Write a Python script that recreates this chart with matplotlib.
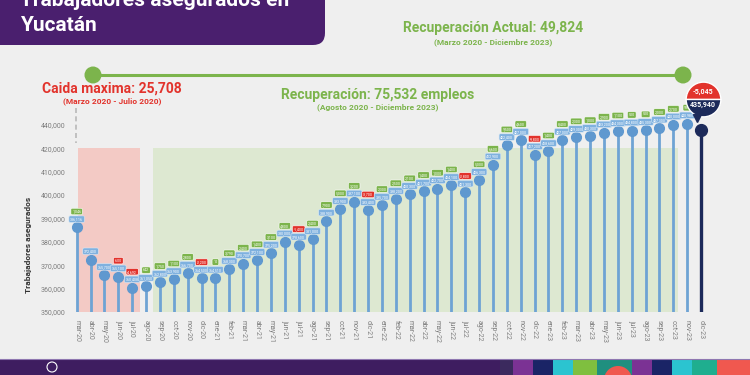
import numpy as np
import matplotlib.pyplot as plt
from matplotlib import transforms
from matplotlib.patches import FancyBboxPatch, Rectangle, Circle

plt.rcParams['font.family'] = ['Roboto', 'DejaVu Sans']

# datos: trabajadores asegurados en Yucatán (mar-20 a dic-23)
meses = ['mar-20', 'abr-20', 'may-20', 'jun-20', 'jul-20', 'ago-20', 'sep-20', 'oct-20',
         'nov-20', 'dic-20', 'ene-21', 'feb-21', 'mar-21', 'abr-21', 'may-21', 'jun-21',
         'jul-21', 'ago-21', 'sep-21', 'oct-21', 'nov-21', 'dic-21', 'ene-22', 'feb-22',
         'mar-22', 'abr-22', 'may-22', 'jun-22', 'jul-22', 'ago-22', 'sep-22', 'oct-22',
         'nov-22', 'dic-22', 'ene-23', 'feb-23', 'mar-23', 'abr-23', 'may-23', 'jun-23',
         'jul-23', 'ago-23', 'sep-23', 'oct-23', 'nov-23', 'dic-23']
asegurados = [386116, 372400, 365700, 365100, 360408, 361050, 362800, 363900,
              366700, 364500, 364510, 368300, 370700, 372100, 375200, 380000,
              378600, 381000, 388900, 393900, 397100, 393400, 395700, 398200,
              400300, 401700, 402700, 404100, 401300, 406300, 412900, 422400,
              427000, 417200, 418600, 427000, 429300, 430300, 433200, 434300,
              434800, 435300, 437300, 440000, 440985, 435940]
cambio_mar20 = 1046           # variación mostrada para mar-20
sin_cambio = ['abr-20', 'may-20']   # meses sin recuadro de variación
ticks_y = [350000, 360000, 370000, 380000, 390000, 400000, 410000, 420000, 440000]

i_min = asegurados.index(min(asegurados[:6]))
caida = asegurados[0] - asegurados[i_min]
recuperacion = asegurados[-1] - asegurados[i_min]
actual = asegurados[-1] - asegurados[0]

VERDE = '#7cb44c'
ROJO = '#e2332c'
AZUL = '#6ea3d4'
NAVY = '#1c2a5a'
MORADO = '#4a1f6e'


# eje Y comprimido arriba de 420,000 (como en la lamina original)
def fwd(v):
    v = np.asarray(v, dtype=float)
    return np.where(v > 420000, 420000 + (v - 420000) / 2, v)


def inv(u):
    u = np.asarray(u, dtype=float)
    return np.where(u > 420000, 420000 + (u - 420000) * 2, u)


fig = plt.figure(figsize=(7.5, 3.75), dpi=100, facecolor='#efefef')

# capa de fondo en pixeles
bg = fig.add_axes([0, 0, 1, 1], zorder=0)
bg.set_xlim(0, 750)
bg.set_ylim(375, 0)
bg.axis('off')

bg.add_patch(FancyBboxPatch((-20, -20), 345, 65, boxstyle='round,pad=0,rounding_size=12',
                            fc=MORADO, ec='none'))
bg.text(20, 6, 'Trabajadores asegurados en', color='white', fontsize=15,
        fontweight='bold', va='baseline')
bg.text(20, 31, 'Yucatán', color='white', fontsize=15, fontweight='bold', va='baseline')

# pie de pagina
bg.add_patch(Rectangle((0, 359), 750, 16, fc='#3e1d60', ec='none'))
bg.plot([0, 750], [359, 359], color='#8f77b0', lw=0.8)
bloques = [(500, 513, '#3b2a5e'), (513, 533, '#7b3294'), (533, 553, '#1a2466'),
           (553, 573, '#2bc4d0'), (573, 597, '#7fbf3f'), (597, 632, '#1f8f7f'),
           (632, 652, '#7b3294'), (652, 672, '#1a2466'), (672, 692, '#2bc4d0'),
           (692, 717, '#1fae8f'), (717, 750, '#f0584f')]
for x0, x1, c in bloques:
    bg.add_patch(Rectangle((x0, 360), x1 - x0, 15, fc=c, ec='none'))
bg.add_patch(Circle((618, 380), 14, fc='#f0584f', ec='none'))
bg.add_patch(Circle((736, 380), 14, fc='#f0584f', ec='none'))
bg.add_patch(Circle((52, 367), 5, fc='none', ec='white', lw=0.8))

# linea de recuperacion
bg.plot([93, 683], [75, 75], color=VERDE, lw=2.2, solid_capstyle='butt')
bg.add_patch(Circle((93, 75), 8.5, fc=VERDE, ec='none'))
bg.add_patch(Circle((683, 75), 8.5, fc=VERDE, ec='none'))
bg.plot([76, 76], [108, 143], color='#b8b8b8', lw=1.2, ls=(0, (3, 2)))

bg.text(493, 28, f'Recuperación Actual: {actual:,}', color=VERDE, fontsize=10,
        fontweight='bold', ha='center', va='center')
bg.text(493, 42, '(Marzo 2020 - Diciembre 2023)', color=VERDE, fontsize=6,
        fontweight='bold', ha='center', va='center')
bg.text(112, 89, f'Caida maxima: {caida:,}', color=ROJO, fontsize=10,
        fontweight='bold', ha='center', va='center')
bg.text(112, 101, '(Marzo 2020 - Julio 2020)', color=ROJO, fontsize=6,
        fontweight='bold', ha='center', va='center')
bg.text(378, 95, f'Recuperación: {recuperacion:,} empleos', color=VERDE, fontsize=10,
        fontweight='bold', ha='center', va='center')
bg.text(378, 107, '(Agosto 2020 - Diciembre 2023)', color=VERDE, fontsize=6,
        fontweight='bold', ha='center', va='center')
bg.text(29, 245, 'Trabajadores asegurados', color='#333333', fontsize=6,
        fontweight='bold', rotation=90, ha='center', va='center')

# grafica principal
ax = fig.add_axes([70 / 750, 63 / 375, 645 / 750, 212 / 375], zorder=1)
ax.set_facecolor('none')
ax.set_yscale('function', functions=(fwd, inv))
ax.set_xlim(-0.48, 46.0)
ax.set_ylim(350000, 461200)
for s in ax.spines.values():
    s.set_visible(False)

x = np.arange(len(meses))
ax.fill_between([0.07, 4.56], 350000, 420000, color='#f3cac5', lw=0, zorder=0)
ax.fill_between([5.5, 43.3], 350000, 420000, color='#dde8d1', lw=0, zorder=0)

ax.vlines(x[:-1], 350000, asegurados[:-1], color=AZUL, lw=2, zorder=2)
ax.plot(x[:-1], asegurados[:-1], 'o', ms=7, color='#5f98cf', zorder=3)
ax.vlines(x[-1], 350000, asegurados[-1], color=NAVY, lw=2.4, zorder=2)
ax.plot(x[-1], asegurados[-1], 'o', ms=8.5, color=NAVY, zorder=3)

for i, (m, v) in enumerate(zip(meses[:-1], asegurados[:-1])):
    ax.annotate(f'{v:,}', (i, v), xytext=(0, 6), textcoords='offset points',
                ha='center', va='center', fontsize=2.6, color='white', zorder=5,
                bbox=dict(boxstyle='round,pad=0.35', fc='#7fb1df', ec='#d9e9f7', lw=0.4))
    if m in sin_cambio:
        continue
    cambio = cambio_mar20 if i == 0 else v - asegurados[i - 1]
    ax.annotate(f'{cambio:,}', (i, v), xytext=(0, 11.5), textcoords='offset points',
                ha='center', va='center', fontsize=2.6, color='white', zorder=5,
                bbox=dict(boxstyle='round,pad=0.35', fc=ROJO if cambio < 0 else VERDE,
                          ec='white', lw=0.4))

# globo del ultimo mes
cambio_ult = asegurados[-1] - asegurados[-2]
tr = transforms.offset_copy(ax.transData, fig=fig, x=1.5, y=22, units='points')
ax.plot(x[-1], asegurados[-1], marker='o', ms=25, fillstyle='top', color=ROJO,
        markerfacecoloralt=NAVY, mec='white', mew=1, transform=tr, clip_on=False, zorder=6)
tr_cola = transforms.offset_copy(ax.transData, fig=fig, x=-3, y=8, units='points')
ax.plot(x[-1], asegurados[-1], marker='v', ms=6, color=NAVY, transform=tr_cola,
        clip_on=False, zorder=6)
ax.annotate(f'{cambio_ult:,}', (x[-1], asegurados[-1]), xytext=(1.5, 27),
            textcoords='offset points', ha='center', va='center', fontsize=5,
            fontweight='bold', color='white', zorder=7)
ax.annotate(f'{asegurados[-1]:,}', (x[-1], asegurados[-1]), xytext=(1.5, 17.5),
            textcoords='offset points', ha='center', va='center', fontsize=5,
            fontweight='bold', color='white', zorder=7)

ax.set_yticks(ticks_y)
ax.set_yticklabels([f'{t:,}' for t in ticks_y])
ax.set_xticks(x)
ax.set_xticklabels(meses, rotation=-90)
ax.tick_params(axis='both', length=0, labelsize=5, labelcolor='#7d7d7d')
ax.tick_params(axis='x', pad=6)
ax.tick_params(axis='y', pad=3)
ax.yaxis.set_minor_locator(plt.NullLocator())

fig.savefig('out.png', dpi=100, facecolor=fig.get_facecolor())
